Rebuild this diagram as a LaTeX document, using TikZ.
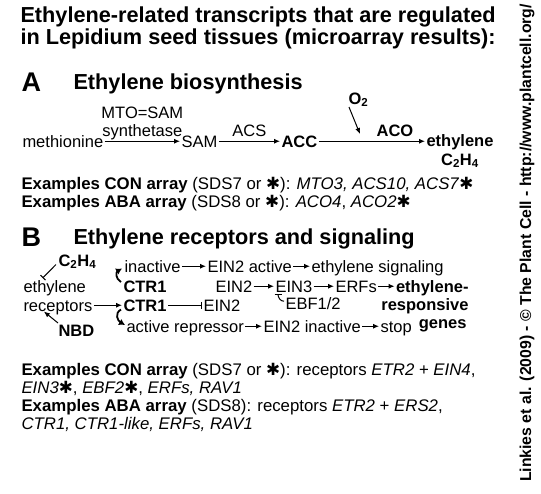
\documentclass[tikz,border=0pt]{standalone}
\usepackage{fontspec}
\setmainfont{Liberation Sans}
\newfontfamily\symfont{DejaVu Sans}
\usetikzlibrary{arrows.meta}
\newcommand{\hstar}{{\symfont ✱}}
\newcommand{\dtxt}{\fontsize{16.5}{18}\selectfont}
\newcommand{\etxt}{\fontsize{16.8}{18}\selectfont}
\newcommand{\htxt}{\fontsize{21.7}{22}\selectfont\bfseries}

\begin{document}
\begin{tikzpicture}[x=1pt, y=-1pt, line width=1pt,
    txt/.style={font=\dtxt, inner sep=1pt, text height=11.5pt, text depth=0pt, anchor=base west},
    btxt/.style={txt, font=\dtxt\bfseries},
    lbl/.style={font=\dtxt, inner sep=0pt, align=center},
    line/.style={font=\etxt, inner sep=0pt, anchor=base west},
    head/.style={font=\htxt, inner sep=0pt, anchor=base west},
    bigl/.style={font=\fontsize{27}{27}\selectfont\bfseries, inner sep=0pt, anchor=base west},
    arr/.style={-{Latex[length=6pt,width=5pt]}},
    inh/.style={-{Bar[width=7pt]}},
    curl/.style={line width=1.8pt, -{Latex[length=6pt,width=7pt]}}]
  \useasboundingbox[fill=white] (0,0) rectangle (541,493);
  % title
  \node[head] (tit1) at (20,22) {Ethylene-related transcripts that are regulated};
  \node[head] (tit2) at (20,44) {in Lepidium seed tissues (microarray results):};
  % A: biosynthesis
  \node[bigl] (labA) at (21,91) {A};
  \node[head] (headA) at (73,89) {Ethylene biosynthesis};
  \node[txt] (meth) at (21,147) {methionine};
  \node[txt] (sam) at (180,147) {SAM};
  \node[btxt] (acc) at (280,147) {ACC};
  \node[btxt] (ethA) at (425,146) {ethylene};
  \node[btxt, anchor=base] (c2h4A) at ([yshift=-19pt]ethA.base) {C\textsubscript{2}H\textsubscript{4}};
  \draw[arr] (meth.east) -- (sam.west);
  \draw[arr] (sam.east) -- (acc.west);
  \draw[arr] (acc.east) -- (acc.east -| ethA.west);
  \path (meth.east) -- (sam.west) coordinate[midway] (m1);
  \path (sam.east) -- (acc.west) coordinate[midway] (m2);
  \node[lbl, anchor=south] (mto) at ([yshift=1pt]m1) {MTO=SAM\\synthetase};
  \node[lbl, anchor=south] (acs) at ([yshift=4pt]m2) {ACS};
  \node[lbl, anchor=south, font=\dtxt\bfseries] (aco) at ([yshift=4pt]acc.east -| 395,0) {ACO};
  \node[line, font=\dtxt\bfseries] (o2) at (348,104) {O\textsubscript{2}};
  \coordinate (o2tip) at (360,134);
  \draw[arr] ([xshift=1pt]o2.south west) -- (o2tip);
  % examples A
  \node[line] (exA1) at (21,189) {\textbf{Examples CON array} (SDS7 or \hstar): \textit{MTO3, ACS10, ACS7}\hstar};
  \node[line] (exA2) at (21,207) {\textbf{Examples ABA array} (SDS8 or \hstar): \textit{ACO4}, \textit{ACO2}\hstar};
  % B: receptors and signaling
  \node[bigl] (labB) at (21,246) {B};
  \node[head] (headB) at (73,244) {Ethylene receptors and signaling};
  \node[btxt] (c2h4B) at (57,266) {C\textsubscript{2}H\textsubscript{4}};
  \node[txt] (inact) at (123,272) {inactive};
  \node[txt] (ein2a) at (206,272) {EIN2 active};
  \node[txt] (ethsig) at (310,272) {ethylene signaling};
  \node[txt] (ethr) at (22,292) {ethylene};
  \node[btxt] (ctr1a) at (122,292) {CTR1};
  \node[txt] (ein2b) at (214,292) {EIN2};
  \node[txt] (ein3) at (274,292) {EIN3};
  \node[txt] (erfs) at (334,292) {ERFs};
  \node[btxt, anchor=base east] (erg) at (470,292) {ethylene-};
  \node[btxt, anchor=base east] (resp) at (470,310) {responsive};
  \node[btxt, anchor=base east] (genes) at (468,328) {genes};
  \node[txt] (recp) at (22,311) {receptors};
  \node[btxt] (ctr1b) at (122,311) {CTR1};
  \node[txt] (ein2c) at (202,311) {EIN2};
  \node[txt] (ebf) at (284,309) {EBF1/2};
  \node[btxt] (nbd) at (57,336) {NBD};
  \node[txt] (actrep) at (125,332) {active repressor};
  \node[txt] (ein2i) at (262,332) {EIN2 inactive};
  \node[txt] (stop) at (379,332) {stop};
  \draw[arr] (inact.east) -- (ein2a.west);
  \draw[arr] (ein2a.east) -- (ethsig.west);
  \draw[arr] (recp.east) -- (ctr1b.west);
  \draw[inh] (ctr1b.east) -- (ein2c.west);
  \draw[arr] (ein2b.east) -- (ein3.west);
  \draw[arr] (ein3.east) -- (erfs.west);
  \draw[arr] (erfs.east) -- (erfs.east -| erg.west);
  \draw[arr] (actrep.east) -- (ein2i.west);
  \draw[arr] (ein2i.east) -- (stop.west);
  % curled arrows from CTR1
  \draw[curl] ([xshift=-1pt,yshift=-3pt]ctr1a.north west) to[out=150,in=210,looseness=1.3] ([xshift=-1pt,yshift=5pt]inact.south west);
  \draw[curl] ([xshift=-1pt,yshift=3pt]ctr1b.south west) to[out=210,in=150,looseness=1.3] ([xshift=0pt,yshift=-6pt]actrep.north west);
  \draw[inh] ([xshift=-1pt,yshift=3pt]c2h4B.south west) -- ([xshift=-12pt,yshift=1pt]ethr.north);
  \draw[arr] ([xshift=1pt]nbd.north west) -- ([xshift=-14pt,yshift=1pt]recp.south);
  \draw[inh] ([yshift=2pt]ebf.west) to[out=180,in=-90] ([xshift=4pt]ein3.south west);
  % examples B
  \node[line] (exB1) at (21,375) {\textbf{Examples CON array} (SDS7 or \hstar): receptors \textit{ETR2} + \textit{EIN4},};
  \node[line] (exB2) at (21,393) {\textit{EIN3}\hstar, \textit{EBF2}\hstar, \textit{ERFs, RAV1}};
  \node[line] (exB3) at (21,411) {\textbf{Examples ABA array} (SDS8): receptors \textit{ETR2} + \textit{ERS2},};
  \node[line] (exB4) at (21,429) {\textit{CTR1, CTR1-like, ERFs, RAV1}};
  % credit line
  \node[rotate=90, font=\fontsize{15.8}{16}\selectfont\bfseries, inner sep=0pt] (credit) at (527,243) {Linkies et al. (2009) - \textcopyright{} The Plant Cell - http://www.plantcell.org/};
\end{tikzpicture}
\end{document}
